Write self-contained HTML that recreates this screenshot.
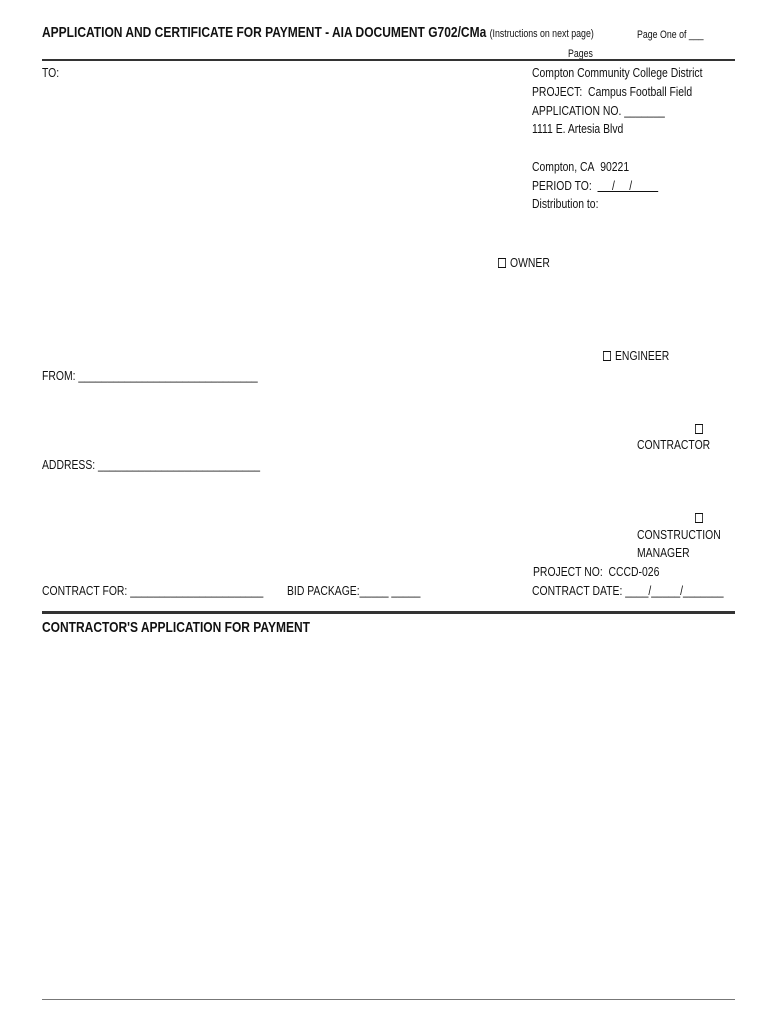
<!DOCTYPE html>
<html><head><style>
body{margin:0;width:770px;height:1024px;background:#fff;position:relative;overflow:hidden;font-family:"Liberation Sans Narrow","Liberation Sans",sans-serif;color:#111}
.t{position:absolute;font-size:13px;line-height:16px;white-space:nowrap;transform:scaleX(.8);transform-origin:0 0}
.b{font-weight:bold;font-size:15px;line-height:18px}
.s{font-size:11px}
.line{position:absolute;background:#333}
.cb{display:inline-block;width:8px;height:8px;border:1.5px solid #111;margin-right:5px;vertical-align:-1px}
</style></head><body>
<div class="t b" style="left:42px;top:24px">APPLICATION AND CERTIFICATE FOR PAYMENT - AIA DOCUMENT G702/CMa <span style="font-weight:normal;font-size:11px">(Instructions on next page)</span></div>
<div class="t s" style="left:637px;top:27px">Page One of ___</div>
<div class="t s" style="left:568px;top:46px">Pages</div>
<div class="line" style="left:42px;top:59px;width:693px;height:2px"></div>
<div class="t" style="left:42px;top:65px">TO:</div>
<div class="t" style="left:532px;top:65px">Compton Community College District</div>
<div class="t" style="left:532px;top:84px">PROJECT:&nbsp; Campus Football Field</div>
<div class="t" style="left:532px;top:103px">APPLICATION NO. _______</div>
<div class="t" style="left:532px;top:121px">1111 E. Artesia Blvd</div>
<div class="t" style="left:532px;top:159px">Compton, CA&nbsp; 90221</div>
<div class="t" style="left:532px;top:178px">PERIOD TO:&nbsp; <u>&nbsp;&nbsp;&nbsp;&nbsp;&nbsp;/&nbsp;&nbsp;&nbsp;&nbsp;&nbsp;/&nbsp;&nbsp;&nbsp;&nbsp;&nbsp;&nbsp;&nbsp;&nbsp;&nbsp;</u></div>
<div class="t" style="left:532px;top:196px">Distribution to:</div>
<div class="t" style="left:498px;top:255px"><span class="cb"></span>OWNER</div>
<div class="t" style="left:603px;top:348px"><span class="cb"></span>ENGINEER</div>
<div class="t" style="left:42px;top:368px">FROM: _______________________________</div>
<div class="t" style="left:695px;top:421px"><span class="cb"></span></div>
<div class="t" style="left:637px;top:437px">CONTRACTOR</div>
<div class="t" style="left:42px;top:457px">ADDRESS: ____________________________</div>
<div class="t" style="left:695px;top:510px"><span class="cb"></span></div>
<div class="t" style="left:637px;top:527px">CONSTRUCTION</div>
<div class="t" style="left:637px;top:545px">MANAGER</div>
<div class="t" style="left:533px;top:564px">PROJECT NO:&nbsp; CCCD-026</div>
<div class="t" style="left:42px;top:583px">CONTRACT FOR: _______________________</div>
<div class="t" style="left:287px;top:583px">BID PACKAGE:_____ _____</div>
<div class="t" style="left:532px;top:583px">CONTRACT DATE: ____/_____/_______</div>
<div class="line" style="left:42px;top:611px;width:693px;height:3px"></div>
<div class="t b" style="left:42px;top:619px">CONTRACTOR'S APPLICATION FOR PAYMENT</div>
<div class="line" style="left:42px;top:999px;width:693px;height:1px;background:#777"></div>
</body></html>
